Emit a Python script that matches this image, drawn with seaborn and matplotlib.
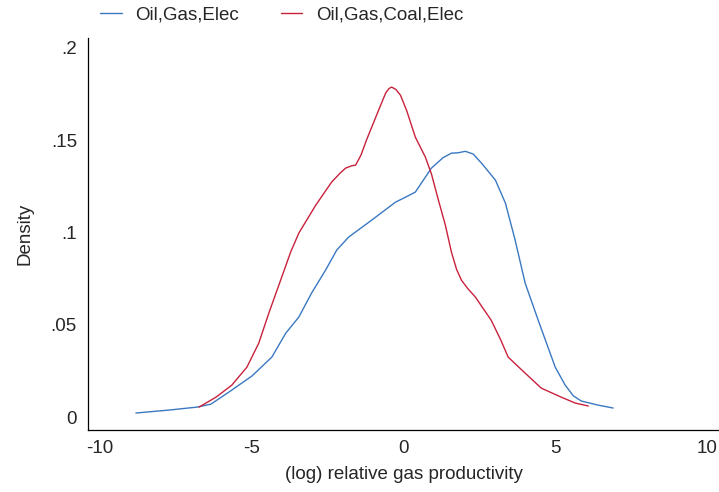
import pandas as pd
import matplotlib
matplotlib.use('Agg')
import matplotlib.pyplot as plt
import seaborn as sns

# Density curves
ogE_x = [-8.82, -7.73, -6.81, -6.35, -5.76, -5.00, -4.34, -3.88, -3.45, -3.03, -2.57, -2.20,
         -1.81, -1.05, -0.26, 0.00, 0.39, 0.92, 1.30, 1.58, 1.80, 2.04, 2.30, 2.57, 3.03,
         3.36, 3.68, 4.01, 4.44, 5.00, 5.33, 5.60, 5.86, 6.41, 6.91]
ogE_y = [0.0022, 0.0038, 0.0054, 0.0070, 0.0135, 0.0222, 0.0325, 0.0455, 0.0542, 0.0672,
         0.0796, 0.0905, 0.0975, 0.1067, 0.1165, 0.1186, 0.1219, 0.1349, 0.1405, 0.1430,
         0.1432, 0.1440, 0.1425, 0.1376, 0.1284, 0.1159, 0.0959, 0.0726, 0.0525, 0.0271,
         0.0173, 0.0115, 0.0087, 0.0065, 0.0049]

ogcE_x = [-6.74, -6.18, -5.66, -5.16, -4.77, -4.44, -4.05, -3.72, -3.45, -2.89, -2.37, -2.10,
          -1.91, -1.70, -1.58, -1.40, -1.22, -0.82, -0.59, -0.48, -0.39, -0.25, -0.10, 0.10,
          0.39, 0.72, 0.92, 1.15, 1.38, 1.58, 1.75, 1.91, 2.10, 2.37, 2.89, 3.20, 3.45, 4.01,
          4.54, 5.20, 5.66, 6.09]
ogcE_y = [0.0054, 0.0108, 0.0173, 0.0271, 0.0401, 0.0563, 0.0742, 0.0894, 0.0997, 0.1149,
          0.1273, 0.1320, 0.1349, 0.1362, 0.1365, 0.1420, 0.1501, 0.1663, 0.1755, 0.1780,
          0.1788, 0.1775, 0.1744, 0.1663, 0.1517, 0.1409, 0.1318, 0.1176, 0.1040, 0.0894,
          0.0800, 0.0742, 0.0700, 0.0650, 0.0525, 0.0420, 0.0325, 0.0238, 0.0157, 0.0108,
          0.0076, 0.0060]

labels = ['Oil,Gas,Elec', 'Oil,Gas,Coal,Elec']
colors = ['#3a78c2', '#c8213c']

df = pd.concat([
    pd.DataFrame({'x': ogE_x, 'y': ogE_y, 'group': labels[0]}),
    pd.DataFrame({'x': ogcE_x, 'y': ogcE_y, 'group': labels[1]}),
])

sns.set_style('white')
plt.rcParams['font.family'] = ['Liberation Sans', 'DejaVu Sans']

fig = plt.figure(figsize=(7.19, 4.92), dpi=100)
ax = fig.add_axes([88 / 719, 62 / 492, 631 / 719, 392 / 492])

sns.lineplot(data=df, x='x', y='y', hue='group', palette=dict(zip(labels, colors)),
             sort=False, estimator=None, linewidth=1.0, ax=ax, legend=False)

ax.set_xlim(-10.4, 10.4)
ax.set_ylim(-0.007, 0.2054)
ax.set_xticks([-10, -5, 0, 5, 10])
ax.set_xticklabels(['-10', '-5', '0', '5', '10'])
ax.set_yticks([0, 0.05, 0.1, 0.15, 0.2])
ax.set_yticklabels(['0', '.05', '.1', '.15', '.2'])
ax.tick_params(axis='x', length=0, labelsize=13.5, pad=7)
ax.tick_params(axis='y', length=0, labelsize=13.5, pad=8)
ax.set_xlabel('(log) relative gas productivity', fontsize=13.5, labelpad=7)
ax.set_ylabel('Density', fontsize=13.5, labelpad=12)

for side in ['top', 'right']:
    ax.spines[side].set_visible(False)
for side in ['left', 'bottom']:
    ax.spines[side].set_color('black')
    ax.spines[side].set_linewidth(0.9)

handles = [plt.Line2D([], [], color=c, linewidth=1.0) for c in colors]
fig.legend(handles, labels, loc='center left', bbox_to_anchor=(100 / 719, 1 - 15 / 492), ncol=2,
           frameon=False, fontsize=13.5, handlelength=1.15, columnspacing=2.2,
           handletextpad=0.75, borderaxespad=0.0, borderpad=0.0)

fig.savefig('out.png', dpi=100)
